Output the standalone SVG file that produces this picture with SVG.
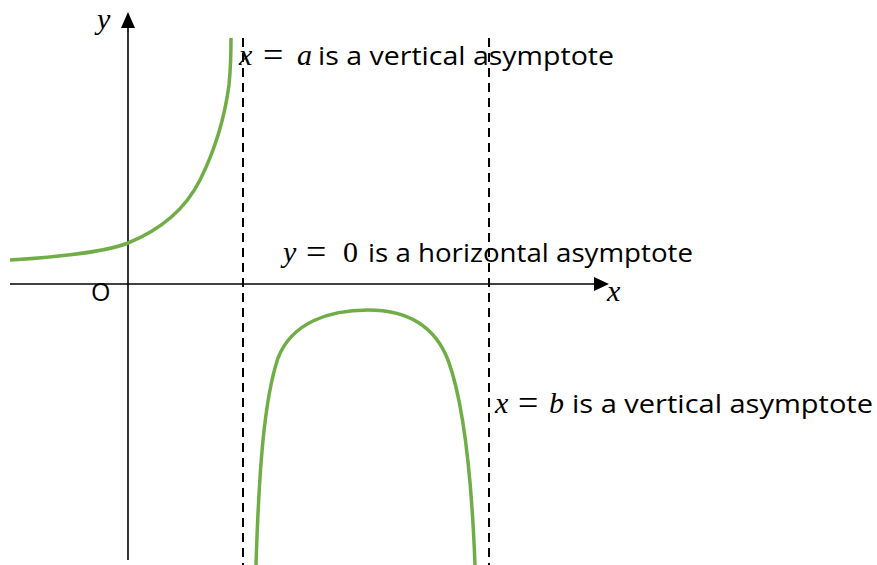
<svg xmlns="http://www.w3.org/2000/svg" width="877" height="565" viewBox="0 0 877 565">
<style>
.ax{stroke:#000;stroke-width:1.6;fill:none}
.dash{stroke:#000;stroke-width:2;stroke-dasharray:9 6;fill:none}
.curve{stroke:#70AD47;stroke-width:3.5;fill:none;stroke-linecap:butt}
.t{font-family:"Open Sans","Liberation Sans",sans-serif;font-size:25px;fill:#000}
.m{font-family:"Liberation Serif",serif;font-style:italic;font-size:30px;fill:#000}
.eq{font-family:"Liberation Serif",serif;font-size:36px;fill:#000}
.n{font-family:"Liberation Serif",serif;font-size:30px;fill:#000}
</style>
<rect width="877" height="565" fill="#fff"/>
<g id="axes">
<line class="ax" x1="128" y1="560" x2="128" y2="14"/>
<path d="M121,28 L128,12 L135,28 z" fill="#000"/>
<line class="ax" x1="10" y1="284" x2="596" y2="284"/>
<path d="M594,277 L609,284 L594,291 z" fill="#000"/>
<text class="m" x="97" y="29">y</text>
<text class="m" x="607" y="301">x</text>
<text class="t" x="91" y="301">O</text>
</g>
<g id="asymptotes">
<line class="dash" x1="243" y1="38" x2="243" y2="565"/>
<line class="dash" x1="489" y1="38" x2="489" y2="565"/>
</g>
<g id="curves">
<path class="curve" d="M10,260 C60,257 105,252 128,243 C160,230 185,210 200,180 C215,150 225,115 229,85 C231,65 231,50 231,38"/>
<path class="curve" d="M256,565 C259,470 264,400 278,358 C292,322 330,310 368,310 C405,310 434,324 448,360 C462,398 471,460 475,565"/>
</g>
<g id="labels">
<text class="m" x="239" y="65">x</text>
<text class="eq" x="263" y="67">=</text>
<text class="m" x="297" y="65">a</text>
<text class="t" x="318" y="65" textLength="296" lengthAdjust="spacingAndGlyphs">is a vertical asymptote</text>
<text class="m" x="283" y="262">y</text>
<text class="eq" x="306" y="264">=</text>
<text class="n" x="343" y="262">0</text>
<text class="t" x="368" y="262" textLength="325" lengthAdjust="spacingAndGlyphs">is a horizontal asymptote</text>
<text class="m" x="495" y="413">x</text>
<text class="eq" x="518" y="415">=</text>
<text class="m" x="549" y="413">b</text>
<text class="t" x="572" y="413" textLength="301" lengthAdjust="spacingAndGlyphs">is a vertical asymptote</text>
</g>
</svg>
